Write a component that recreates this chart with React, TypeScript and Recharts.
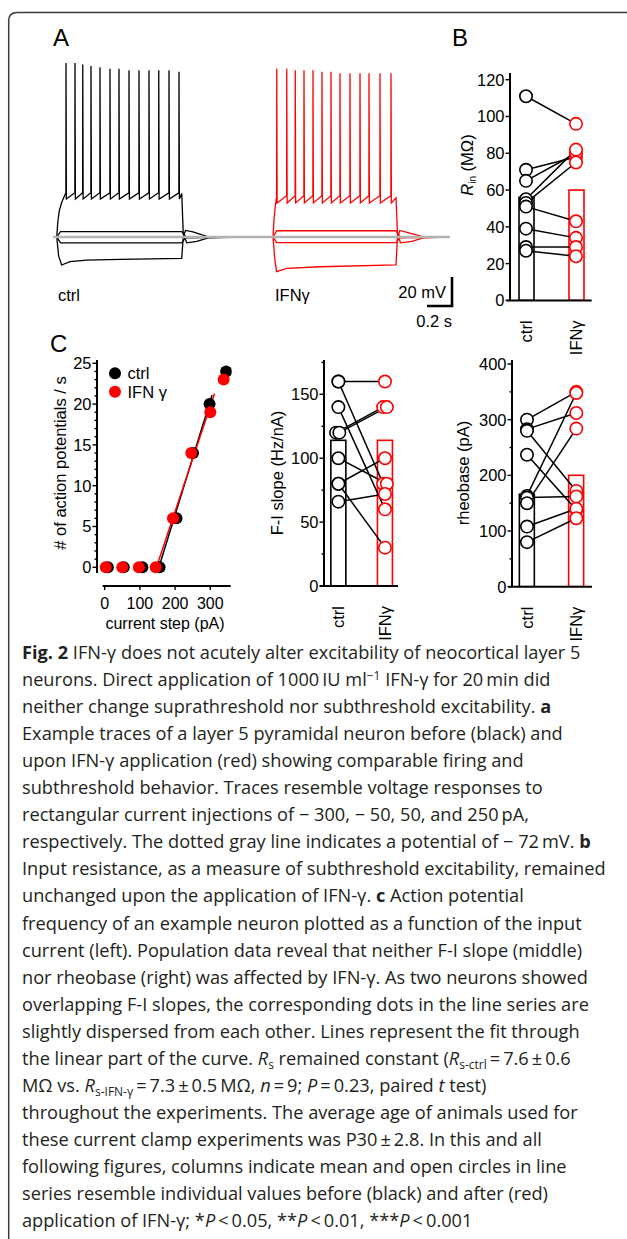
import React from 'react';
import {
	ComposedChart,
	LineChart,
	Line,
	Bar,
	Scatter,
	XAxis,
	YAxis,
	ReferenceLine,
} from 'recharts';

const RED = '#ff0000';
const INK = '#000';
const GRAY = '#b3b3b3';
const ARIAL = '"Liberation Sans", Arial, sans-serif';
const CAPTION_FONT = '"Open Sans", "Noto Sans", sans-serif';
const TXT = 16.5;

/* ---------- A: example sweeps, [ms, mV] ---------- */
const restMv = -72;
const ifnShift = 1720; // IFNγ sweep sits to the right of the ctrl sweep

const ctrlSpikeTimes = [104, 176, 238, 304, 376, 456, 528, 608, 688, 768, 846, 928, 1008];
const ctrlSpikePeaks = [48, 48, 47, 46, 45, 44, 44, 43, 43, 43, 43, 43, 42];
const ctrlThreshold = -41.5;
const ctrlAhp = -45.8;
const ctrlRise = [[0, -72], [30, -72], [38, -62], [50, -54], [70, -48], [90, -44]];
const ctrlRepol = [[1030, -42], [1042, -70], [1070, -76], [1150, -75], [1250, -72.5], [1500, -72]];
const ctrlMinus300 = [[0, -72], [30, -72], [45, -85], [69, -91.3], [136, -89], [269, -87.9], [536, -87.4], [1030, -86.7], [1042, -72], [1060, -67.5], [1120, -68.5], [1230, -71.5], [1500, -72]];
const ctrlMinus50 = [[0, -72], [30, -72], [60, -76], [1030, -76], [1060, -72.5], [1500, -72]];
const ctrlPlus50 = [[0, -72], [30, -72], [60, -68.3], [1030, -68.3], [1060, -71.5], [1500, -72]];

const ifnSpikeTimes = [70, 150, 218, 288, 360, 432, 504, 576, 656, 736, 808, 896, 984];
const ifnSpikePeaks = [44, 44, 43, 43, 43, 42, 42, 41, 41, 41, 41, 41, 41];
const ifnThreshold = -43.5;
const ifnAhp = -48.5;
const ifnRise = [[0, -72], [40, -72], [48, -60], [58, -51], [66, -46]];
const ifnRepol = [[1024, -45], [1036, -70], [1060, -76], [1150, -75], [1250, -72.5], [1440, -72]];
const ifnMinus300 = [[0, -72], [40, -72], [55, -88], [69, -95.9], [149, -93.6], [416, -92.5], [1024, -91.3], [1036, -72], [1055, -67.5], [1120, -69], [1230, -71.5], [1440, -72]];
const ifnMinus50 = [[0, -72], [40, -72], [70, -75.9], [1024, -75.9], [1055, -72.5], [1440, -72]];
const ifnPlus50 = [[0, -72], [40, -72], [70, -67.7], [1024, -67.7], [1055, -71.5], [1440, -72]];

const restLine = [[0, restMv], [3176, restMv]];
const scaleBarCorner = [3192, -119.6];
const scaleBarMs = 200;
const scaleBarMv = 20;

/* ---------- B: input resistance (MΩ) ---------- */
const rinCtrl = [111, 71, 65, 55, 53, 51, 39, 29, 27];
const rinIfn = [96, 78, 80, 82, 75, 43, 34, 29, 24];
const rinMeans = [56, 60];

/* ---------- C: F-I curve of the example neuron ---------- */
const stepCtrl = [9, 54, 107, 156, 204, 251, 298, 345];
const apsCtrl = [0, 0, 0, 0, 6, 14, 20, 24];
const stepIfn = [3, 50, 97, 145, 194, 246, 300, 338];
const apsIfn = [0, 0, 0, 0, 6, 14, 19, 23];
const fitCtrl = [[154, 0], [305, 21.1]];
const fitIfn = [[147, 0], [312, 21.3]];

/* ---------- C: F-I slope (Hz/nA) ---------- */
const slopeCtrl = [160, 160, 140, 120, 120, 100, 80, 80, 66];
const slopeIfn = [160, 80, 60, 140, 140, 80, 100, 30, 72];
const slopeCtrlDx = [0, 0, 0, -0.05, 0.02, 0, 0, 0, 0];
const slopeIfnDx = [0, -0.04, 0, -0.04, 0.04, 0.04, 0, 0, 0];
const slopeMeans = [114, 114];

/* ---------- C: rheobase (pA) ---------- */
const rheoCtrl = [300, 283, 280, 237, 163, 160, 150, 108, 80];
const rheoIfn = [350, 312, 172, 138, 348, 162, 284, 140, 123];
const rheoMeans = [166, 200];

const groupNames = ['ctrl', 'IFNγ'];

type Pt = { t: number; v: number };
const toPts = (arr: number[][], shift = 0): Pt[] => arr.map(([t, v]) => ({ t: t + shift, v }));

function firingSweep(rise: number[][], times: number[], peaks: number[], thr: number, ahp: number, repol: number[][], shift: number) {
	const pts = toPts(rise, shift);
	times.forEach((ts, i) => {
		pts.push({ t: ts - 1 + shift, v: thr }, { t: ts + shift, v: peaks[i] }, { t: ts + 3 + shift, v: ahp });
	});
	return pts.concat(toPts(repol, shift));
}

const traces = [
	{ pts: toPts(ctrlMinus300), color: INK },
	{ pts: toPts(ctrlMinus50), color: INK },
	{ pts: toPts(ctrlPlus50), color: INK },
	{ pts: firingSweep(ctrlRise, ctrlSpikeTimes, ctrlSpikePeaks, ctrlThreshold, ctrlAhp, ctrlRepol, 0), color: INK },
	{ pts: toPts(ifnMinus300, ifnShift), color: RED },
	{ pts: toPts(ifnMinus50, ifnShift), color: RED },
	{ pts: toPts(ifnPlus50, ifnShift), color: RED },
	{ pts: firingSweep(ifnRise, ifnSpikeTimes, ifnSpikePeaks, ifnThreshold, ifnAhp, ifnRepol, ifnShift), color: RED },
];

function TracesPanel() {
	const [ct, cv] = scaleBarCorner;
	const bar = toPts([[ct - scaleBarMs, cv], [ct, cv], [ct, cv + scaleBarMv]]);
	return (
		<div style={{ position: 'absolute', left: 40, top: 50 }}>
			<LineChart width={420} height={270} margin={{ top: 0, right: 0, bottom: 0, left: 0 }}>
				<XAxis type="number" dataKey="t" domain={[-104, 3256]} hide allowDataOverflow />
				<YAxis type="number" dataKey="v" domain={[-129.24, 56.97]} hide allowDataOverflow />
				{traces.map((tr, i) => (
					<Line
						key={i}
						data={tr.pts}
						dataKey="v"
						type="linear"
						stroke={tr.color}
						strokeWidth={1.3}
						dot={false}
						isAnimationActive={false}
					/>
				))}
				<Line data={toPts(restLine)} dataKey="v" stroke={GRAY} strokeWidth={2.6} dot={false} isAnimationActive={false} />
				<Line data={bar} dataKey="v" stroke={INK} strokeWidth={2.6} dot={false} isAnimationActive={false} />
			</LineChart>
		</div>
	);
}

/* ---------- shared axis bits ---------- */
const Y_W = 55;
const X_H = 60;
const M_T = 5;
const M_R = 5;

const ValueTick = ({ x, y, payload, majors }: any) => {
	const major = majors.includes(payload.value);
	return (
		<g>
			<line x1={x - (major ? 4.5 : 2.5)} x2={x} y1={y} y2={y} stroke={INK} strokeWidth={1.4} />
			{major && (
				<text x={x - 5.5} y={y} dy="0.36em" textAnchor="end" fontSize={TXT} fontFamily={ARIAL} fill={INK}>
					{payload.value}
				</text>
			)}
		</g>
	);
};

const GroupTick = ({ x, y, payload }: any) => (
	<text
		x={x}
		y={y + 20}
		transform={`rotate(-90 ${x} ${y + 20})`}
		dy="0.36em"
		textAnchor="end"
		fontSize={TXT}
		fontFamily={ARIAL}
		fill={INK}
	>
		{groupNames[payload.value]}
	</text>
);

const CurrentTick = ({ x, y, payload }: any) => (
	<g>
		<line x1={x} x2={x} y1={y} y2={y + 4} stroke={INK} strokeWidth={1.4} />
		<text x={x} y={y + 23} textAnchor="middle" fontSize={16} fontFamily={ARIAL} fill={INK}>
			{payload.value}
		</text>
	</g>
);

const openCircle = (color: string) => (p: any) =>
	<circle cx={p.cx} cy={p.cy} r={6.2} fill="#fff" stroke={color} strokeWidth={1.6} />;
const filledDot = (color: string) => (p: any) => <circle cx={p.cx} cy={p.cy} r={6} fill={color} />;

// hollow column, always 15 px wide and centred on its group
const MeanColumn = (p: any) => (
	<rect
		x={p.x + p.width / 2 - 7.5}
		y={p.y}
		width={15}
		height={p.height}
		fill="none"
		stroke={p.payload.x < 0.5 ? INK : RED}
		strokeWidth={1.6}
	/>
);

function PairedPanel({ box, xDomain, xLine, yDomain, yMajor, yMinor, means, before, after, beforeDx, afterDx }: any) {
	const [l, t, r, b] = box;
	const width = Y_W + (r - l) + M_R;
	const height = M_T + (b - t) + X_H;
	const barData = means.map((m: number, i: number) => ({ x: i, y: m }));
	const pairs = before.map((v: number, i: number) => [
		{ x: beforeDx ? beforeDx[i] : 0, y: v },
		{ x: 1 + (afterDx ? afterDx[i] : 0), y: after[i] },
	]);
	return (
		<div style={{ position: 'absolute', left: l - Y_W, top: t - M_T }}>
			<ComposedChart width={width} height={height} data={barData} margin={{ top: M_T, right: M_R, bottom: 0, left: 0 }}>
				<XAxis
					type="number"
					dataKey="x"
					domain={xDomain}
					allowDataOverflow
					ticks={[0, 1]}
					interval={0}
					height={X_H}
					axisLine={false}
					tickLine={false}
					tickSize={0}
					tickMargin={0}
					tick={GroupTick}
				/>
				<YAxis
					type="number"
					dataKey="y"
					domain={yDomain}
					allowDataOverflow
					ticks={[...yMajor, ...yMinor]}
					interval={0}
					width={Y_W}
					axisLine={{ stroke: INK, strokeWidth: 2 }}
					tickLine={false}
					tickSize={0}
					tickMargin={0}
					tick={(p: any) => <ValueTick {...p} majors={yMajor} />}
				/>
				<Bar dataKey="y" barSize={15} shape={MeanColumn} isAnimationActive={false} />
				<ReferenceLine
					segment={[{ x: xLine[0], y: 0 }, { x: xLine[1], y: 0 }]}
					stroke={INK}
					strokeWidth={2}
					ifOverflow="visible"
				/>
				{pairs.map((p: any, i: number) => (
					<Line key={i} data={p} dataKey="y" stroke={INK} strokeWidth={1.5} dot={false} isAnimationActive={false} />
				))}
				<Scatter data={pairs.map((p: any) => p[0])} shape={openCircle(INK)} isAnimationActive={false} />
				<Scatter data={pairs.map((p: any) => p[1])} shape={openCircle(RED)} isAnimationActive={false} />
			</ComposedChart>
		</div>
	);
}

function FiCurvePanel() {
	const [l, t, r, b] = [97.3, 360, 232, 586];
	const xDomain = [-21.9, 360.8];
	const yDomain = [-2.29, 25.4];
	const apMajor = [0, 5, 10, 15, 20, 25];
	const apMinor = Array.from({ length: 26 }, (_, i) => i).filter((v) => v % 5 !== 0);
	const ctrlPts = stepCtrl.map((x, i) => ({ x, y: apsCtrl[i] }));
	const ifnPts = stepIfn.map((x, i) => ({ x, y: apsIfn[i] }));
	return (
		<div style={{ position: 'absolute', left: l - Y_W, top: t - M_T }}>
			<ComposedChart
				width={Y_W + (r - l) + M_R}
				height={M_T + (b - t) + X_H}
				margin={{ top: M_T, right: M_R, bottom: 0, left: 0 }}
			>
				<XAxis
					type="number"
					dataKey="x"
					domain={xDomain}
					allowDataOverflow
					ticks={[0, 100, 200, 300]}
					interval={0}
					height={X_H}
					axisLine={false}
					tickLine={false}
					tickSize={0}
					tickMargin={0}
					tick={CurrentTick}
				/>
				<YAxis
					type="number"
					dataKey="y"
					domain={yDomain}
					allowDataOverflow
					ticks={[...apMajor, ...apMinor]}
					interval={0}
					width={Y_W}
					axisLine={false}
					tickLine={false}
					tickSize={0}
					tickMargin={0}
					tick={(p: any) => <ValueTick {...p} majors={apMajor} />}
				/>
				<ReferenceLine
					segment={[{ x: xDomain[0], y: -0.7 }, { x: xDomain[0], y: yDomain[1] }]}
					stroke={INK}
					strokeWidth={2}
					ifOverflow="visible"
				/>
				<ReferenceLine
					segment={[{ x: -5.7, y: yDomain[0] }, { x: 358, y: yDomain[0] }]}
					stroke={INK}
					strokeWidth={2}
					ifOverflow="visible"
				/>
				<Scatter data={ctrlPts} shape={filledDot(INK)} isAnimationActive={false} />
				<Scatter data={ifnPts} shape={filledDot(RED)} isAnimationActive={false} />
				<Line data={fitCtrl.map(([x, y]) => ({ x, y }))} dataKey="y" stroke={INK} strokeWidth={1.5} dot={false} isAnimationActive={false} />
				<Line data={fitIfn.map(([x, y]) => ({ x, y }))} dataKey="y" stroke={RED} strokeWidth={1.5} dot={false} isAnimationActive={false} />
			</ComposedChart>
		</div>
	);
}

/* ---------- caption ---------- */
type Seg = [string, string?];
const caption: Seg[][] = [
	[['Fig. 2', 'b'], [' IFN-γ does not acutely alter excitability of neocortical layer 5']],
	[['neurons. Direct application of 1000\u2009IU ml'], ['−1', 'sup'], [' IFN-γ for 20\u2009min did']],
	[['neither change suprathreshold nor subthreshold excitability. '], ['a', 'b']],
	[['Example traces of a layer 5 pyramidal neuron before (black) and']],
	[['upon IFN-γ application (red) showing comparable firing and']],
	[['subthreshold behavior. Traces resemble voltage responses to']],
	[['rectangular current injections of − 300, − 50, 50, and 250\u2009pA,']],
	[['respectively. The dotted gray line indicates a potential of − 72\u2009mV. '], ['b', 'b']],
	[['Input resistance, as a measure of subthreshold excitability, remained']],
	[['unchanged upon the application of IFN-γ. '], ['c', 'b'], [' Action potential']],
	[['frequency of an example neuron plotted as a function of the input']],
	[['current (left). Population data reveal that neither F-I slope (middle)']],
	[['nor rheobase (right) was affected by IFN-γ. As two neurons showed']],
	[['overlapping F-I slopes, the corresponding dots in the line series are']],
	[['slightly dispersed from each other. Lines represent the fit through']],
	[['the linear part of the curve. '], ['R', 'i'], ['s', 'sub'], [' remained constant ('], ['R', 'i'], ['s-ctrl', 'sub'], ['\u2009=\u20097.6\u2009±\u20090.6']],
	[['MΩ vs. '], ['R', 'i'], ['s-IFN-γ', 'sub'], ['\u2009=\u20097.3\u2009±\u20090.5\u2009MΩ, '], ['n', 'i'], ['\u2009=\u20099; '], ['P', 'i'], ['\u2009=\u20090.23, paired '], ['t', 'i'], [' test)']],
	[['throughout the experiments. The average age of animals used for']],
	[['these current clamp experiments was P30\u2009±\u20092.8. In this and all']],
	[['following figures, columns indicate mean and open circles in line']],
	[['series resemble individual values before (black) and after (red)']],
	[['application of IFN-γ; *'], ['P', 'i'], ['\u2009<\u20090.05, **'], ['P', 'i'], ['\u2009<\u20090.01, ***'], ['P', 'i'], ['\u2009<\u20090.001']],
];

function CaptionLine({ segs, y }: { segs: Seg[]; y: number }) {
	let shift = 0;
	return (
		<text x={22} y={y} fontFamily={CAPTION_FONT} fontSize={18.2} fill="#231f20">
			{segs.map(([txt, kind], i) => {
				const target = kind === 'sub' ? 4 : kind === 'sup' ? -6.5 : 0;
				const dy = target - shift;
				shift = target;
				const small = kind === 'sub' || kind === 'sup';
				return (
					<tspan
						key={i}
						dy={dy}
						fontWeight={kind === 'b' ? 700 : 400}
						fontStyle={kind === 'i' ? 'italic' : 'normal'}
						fontSize={small ? 12 : undefined}
					>
						{txt}
					</tspan>
				);
			})}
		</text>
	);
}

function Overlay() {
	const rot = (x: number, y: number) => `rotate(-90 ${x} ${y})`;
	return (
		<svg width={627} height={1239} style={{ position: 'absolute', left: 0, top: 0, pointerEvents: 'none' }}>
			<path d="M 8.7 1239 V 21 Q 8.7 12.5 17 12.5 H 627" fill="none" stroke="#3a3a3a" strokeWidth={1.5} />
			<g fontFamily={ARIAL} fill={INK} fontSize={TXT}>
				<text x={53} y={46} fontSize={24}>A</text>
				<text x={452} y={46} fontSize={24}>B</text>
				<text x={50} y={352} fontSize={24}>C</text>
				<text x={58} y={301}>ctrl</text>
				<text x={275} y={301}>IFNγ</text>
				<text x={446} y={298} textAnchor="end">20 mV</text>
				<text x={452} y={327} textAnchor="end">0.2 s</text>

				<text x={466.7} y={165} transform={rot(466.7, 165)} textAnchor="middle" dy="0.36em">
					<tspan fontStyle="italic">R</tspan>
					<tspan fontSize={10} dy={3.5}>in</tspan>
					<tspan dy={-3.5}> (MΩ)</tspan>
				</text>
				<text x={60} y={463} transform={rot(60, 463)} textAnchor="middle" dy="0.36em"># of action potentials / s</text>
				<text x={276.7} y={473} transform={rot(276.7, 473)} textAnchor="middle" dy="0.36em">F-I slope (Hz/nA)</text>
				<text x={463.3} y={473} transform={rot(463.3, 473)} textAnchor="middle" dy="0.36em">rheobase (pA)</text>
				<text x={165} y={629} textAnchor="middle" fontSize={16}>current step (pA)</text>

				<circle cx={115} cy={373.3} r={6} fill={INK} />
				<text x={127.5} y={379}>ctrl</text>
				<circle cx={115} cy={391.7} r={6} fill={RED} />
				<text x={127.5} y={397.5}>IFN γ</text>
			</g>
			{caption.map((segs, i) => (
				<CaptionLine key={i} segs={segs} y={659 + i * 27.05} />
			))}
		</svg>
	);
}

export default function App() {
	return (
		<div style={{ position: 'absolute', left: 0, top: 0, width: 627, height: 1239, background: '#fff', overflow: 'hidden' }}>
			<TracesPanel />
			<PairedPanel
				box={[510, 73.3, 600, 300.7]}
				xDomain={[-0.32, 1.48]}
				xLine={[-0.386, 1.314]}
				yDomain={[0, 123.65]}
				yMajor={[0, 20, 40, 60, 80, 100, 120]}
				yMinor={[]}
				means={rinMeans}
				before={rinCtrl}
				after={rinIfn}
			/>
			<FiCurvePanel />
			<PairedPanel
				box={[324.3, 360, 405, 586]}
				xDomain={[-0.309, 1.4227]}
				xLine={[-0.401, 1.279]}
				yDomain={[0, 176.84]}
				yMajor={[0, 50, 100, 150]}
				yMinor={[25, 75, 125, 175]}
				means={slopeMeans}
				before={slopeCtrl}
				after={slopeIfn}
				beforeDx={slopeCtrlDx}
				afterDx={slopeIfnDx}
			/>
			<PairedPanel
				box={[511.7, 360, 600, 586.7]}
				xDomain={[-0.304, 1.487]}
				xLine={[-0.373, 1.318]}
				yDomain={[0, 407.2]}
				yMajor={[0, 100, 200, 300, 400]}
				yMinor={[50, 150, 250, 350]}
				means={rheoMeans}
				before={rheoCtrl}
				after={rheoIfn}
			/>
			<Overlay />
		</div>
	);
}
